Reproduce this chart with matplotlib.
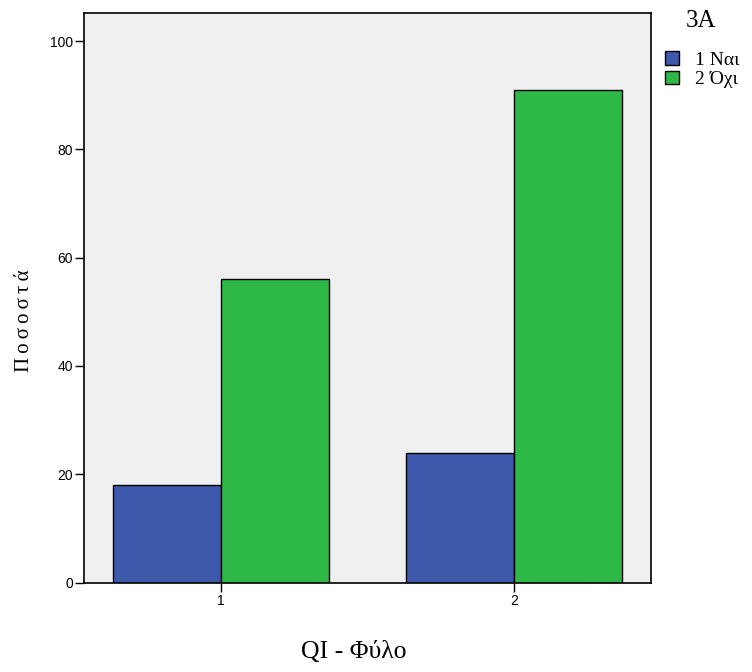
import matplotlib
matplotlib.use("Agg")
import matplotlib.pyplot as plt
import numpy as np

categories = ["1", "2"]
series_names = ["1 Ναι", "2 Όχι"]
values_nai = [18, 24]
values_oxi = [56, 91]
yticks = [0, 20, 40, 60, 80, 100]

colors = ["#3E58AC", "#2EB848"]

fig = plt.figure(figsize=(7.52, 6.72), dpi=100)
ax = fig.add_axes([84/752, 1 - 582.5/672, (651-84)/752, (582.5-12.5)/672])
ax.set_facecolor("#F0F0F0")

x = np.arange(len(categories))
w = 0.3686
b1 = ax.bar(x - w/2, values_nai, w, color=colors[0], edgecolor="black", linewidth=1.0, label=series_names[0])
b2 = ax.bar(x + w/2, values_oxi, w, color=colors[1], edgecolor="black", linewidth=1.0, label=series_names[1])

ax.set_xlim(-0.4676, 1.4676)
ax.set_ylim(0, 105.3)
ax.set_xticks(x)
ax.set_xticklabels(categories, fontfamily="Liberation Sans", fontsize=10)
ax.set_yticks(yticks)
ax.set_yticklabels([str(v) for v in yticks], fontfamily="Liberation Sans", fontsize=10)
ax.tick_params(direction="out", length=6.5, width=1.0, pad=1.5, colors="black")
for s in ax.spines.values():
    s.set_linewidth(1.2)
    s.set_color("black")

ax.set_xlabel("QI - Φύλο", fontfamily="Liberation Serif", fontsize=18.5)
ax.xaxis.set_label_coords((354-84)/567, -(641-582.5)/570)
ax.set_ylabel("Π o σ o σ τ ά".replace(" ", "\u2009"), fontfamily="Liberation Serif", fontsize=15)
ax.yaxis.set_label_coords((34-84)/567, 1 - (321-12.5)/570)

fig.text(686/752, 1 - 21/672, "3A", fontfamily="Liberation Serif", fontsize=18, va="center", ha="left")
leg = ax.legend(handles=[b1, b2], loc="upper left", bbox_to_anchor=(665/752, 1 - 51/672),
                bbox_transform=fig.transFigure, frameon=False,
                prop={"family": "Liberation Serif", "size": 14},
                handlelength=0.7, handleheight=0.7, handletextpad=0.84, labelspacing=0.1,
                borderpad=0, borderaxespad=0)

fig.savefig("out.png", dpi=100)
